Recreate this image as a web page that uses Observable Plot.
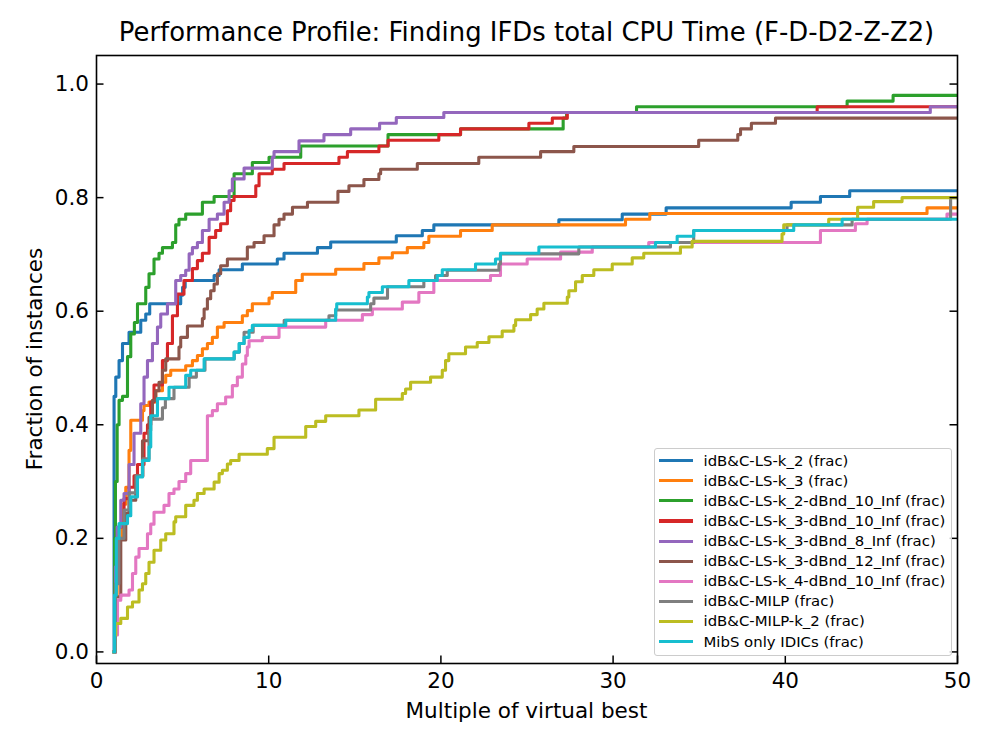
<!DOCTYPE html>
<html><head><meta charset="utf-8">
<script src="https://cdn.jsdelivr.net/npm/d3@7"></script>
<script src="https://cdn.jsdelivr.net/npm/@observablehq/plot@0.6"></script>
<style>
body{margin:0;background:#fff;}
#wrap{position:relative;width:996px;height:747px;font-family:"DejaVu Sans",sans-serif;color:#000;overflow:hidden;}
.lbl{position:absolute;white-space:nowrap;line-height:1;}
#legend{position:absolute;left:654px;top:448px;width:298px;height:208px;box-sizing:border-box;border:1px solid #cccccc;border-radius:3px;background:rgba(255,255,255,0.8);}
.hnd{position:absolute;left:4px;width:33.5px;height:3.1px;}
.txt{position:absolute;left:48.5px;font-size:14.9px;line-height:1;white-space:nowrap;}
</style></head><body><div id="wrap"></div>
<script>
const titleText = "Performance Profile: Finding IFDs total CPU Time (F-D-D2-Z-Z2)";
const xLabel = "Multiple of virtual best";
const yLabel = "Fraction of instances";
const xTicks = [0, 10, 20, 30, 40, 50];
const yTicks = [0, 0.2, 0.4, 0.6, 0.8, 1.0];

const seriesNames = ["idB&C-LS-k_2 (frac)", "idB&C-LS-k_3 (frac)", "idB&C-LS-k_2-dBnd_10_Inf (frac)", "idB&C-LS-k_3-dBnd_10_Inf (frac)", "idB&C-LS-k_3-dBnd_8_Inf (frac)", "idB&C-LS-k_3-dBnd_12_Inf (frac)", "idB&C-LS-k_4-dBnd_10_Inf (frac)", "idB&C-MILP (frac)", "idB&C-MILP-k_2 (frac)", "MibS only IDICs (frac)"];
const seriesColors = ["#1f77b4", "#ff7f0e", "#2ca02c", "#d62728", "#9467bd", "#8c564b", "#e377c2", "#7f7f7f", "#bcbd22", "#17becf"];

const lsK2 = [[1,0],[1.02,0.45],[1.12,0.484],[1.31,0.513],[1.51,0.543],[1.89,0.563],[2.57,0.584],[2.86,0.595],[3.09,0.613],[4.89,0.628],[5.0,0.642],[5.15,0.654],[6.83,0.663],[7.12,0.673],[8.47,0.683],[10.5,0.692],[10.89,0.702],[12.83,0.712],[13.6,0.722],[17.41,0.733],[18.92,0.742],[19.59,0.752],[26.85,0.761],[30.53,0.771],[33.08,0.782],[40.34,0.792],[42.04,0.802],[43.74,0.812],[50,0.812]];
const lsK3 = [[1,0],[1.05,0.1],[1.2,0.2],[1.5,0.26],[1.7,0.29],[1.89,0.355],[1.99,0.408],[2.67,0.425],[2.76,0.434],[3.05,0.44],[3.44,0.46],[3.83,0.475],[4.02,0.487],[4.31,0.496],[5.18,0.504],[5.57,0.513],[5.86,0.522],[6.15,0.534],[6.44,0.543],[6.73,0.554],[7.02,0.572],[7.41,0.58],[8.47,0.592],[8.76,0.601],[9.05,0.613],[10.02,0.623],[10.21,0.633],[11.57,0.654],[11.95,0.665],[13.89,0.674],[15.53,0.684],[16.4,0.694],[17.18,0.703],[18.05,0.712],[19.01,0.721],[19.3,0.732],[21.14,0.742],[22.98,0.752],[30.72,0.762],[32.13,0.772],[48.23,0.782],[50,0.782]];
const lsK2d10 = [[1,0],[1.05,0.2],[1.1,0.3],[1.2,0.4],[1.31,0.443],[1.51,0.45],[1.8,0.52],[1.99,0.56],[2.2,0.58],[2.38,0.613],[2.86,0.642],[3.05,0.666],[3.34,0.692],[3.63,0.702],[3.83,0.712],[4.41,0.721],[4.6,0.752],[4.79,0.762],[5.18,0.771],[6.15,0.792],[6.83,0.802],[7.99,0.842],[9.05,0.862],[10.02,0.871],[11.86,0.891],[16.93,0.911],[21.14,0.921],[27.1,0.94],[27.3,0.95],[31.36,0.96],[43.59,0.97],[46.26,0.98],[50,0.98]];
const lsK3d10 = [[1,0],[1.1,0.15],[1.3,0.22],[1.6,0.27],[1.89,0.29],[2.18,0.31],[2.38,0.33],[2.76,0.385],[2.96,0.40],[3.15,0.44],[3.34,0.47],[3.83,0.513],[4.12,0.543],[4.41,0.592],[4.7,0.63],[5.08,0.654],[5.57,0.675],[5.86,0.689],[6.15,0.702],[6.54,0.73],[6.92,0.742],[7.21,0.754],[7.6,0.777],[7.79,0.795],[7.99,0.802],[9.25,0.821],[9.44,0.842],[10.21,0.85],[10.89,0.86],[14.08,0.871],[14.57,0.881],[16.4,0.891],[16.93,0.901],[19.88,0.911],[21.14,0.921],[25.11,0.931],[26.47,0.94],[27.34,0.95],[41.85,0.96],[50,0.96]];
const lsK3d8 = [[1,0],[1.1,0.15],[1.2,0.22],[1.41,0.267],[1.6,0.279],[1.89,0.33],[2.18,0.385],[2.57,0.437],[2.76,0.484],[2.96,0.513],[3.25,0.543],[3.54,0.572],[3.73,0.595],[4.12,0.613],[4.6,0.654],[4.89,0.663],[5.18,0.672],[5.38,0.701],[5.57,0.712],[5.86,0.721],[6.15,0.742],[6.54,0.762],[7.02,0.771],[7.41,0.792],[7.7,0.812],[7.89,0.833],[8.57,0.852],[10.21,0.871],[10.31,0.881],[11.76,0.90],[13.21,0.911],[14.76,0.921],[16.44,0.931],[17.41,0.941],[20.17,0.95],[48.42,0.96],[50,0.96]];
const lsK3d12 = [[1,0],[1.1,0.097],[1.41,0.197],[1.7,0.244],[1.89,0.267],[2.28,0.31],[2.67,0.372],[3.05,0.413],[3.25,0.443],[3.44,0.46],[3.63,0.475],[3.83,0.496],[4.02,0.516],[4.79,0.537],[4.89,0.554],[5.28,0.574],[6.15,0.587],[6.25,0.604],[6.44,0.622],[6.63,0.636],[6.83,0.648],[7.02,0.666],[7.21,0.68],[7.6,0.692],[8.76,0.713],[9.15,0.721],[9.73,0.733],[10.31,0.752],[10.6,0.762],[10.89,0.771],[11.38,0.783],[12.25,0.792],[14.02,0.811],[14.66,0.821],[15.53,0.832],[16.4,0.842],[16.5,0.85],[18.63,0.86],[22.2,0.871],[25.79,0.881],[27.72,0.89],[34.97,0.901],[37.24,0.911],[37.4,0.921],[38.03,0.931],[39.43,0.94],[50,0.94]];
const lsK4d10 = [[1,0],[1.1,0.03],[1.22,0.091],[1.41,0.10],[1.89,0.109],[2.09,0.138],[2.28,0.167],[2.47,0.182],[2.96,0.208],[3.15,0.225],[3.34,0.246],[3.92,0.258],[4.21,0.279],[4.5,0.287],[4.79,0.30],[5.18,0.314],[5.47,0.337],[6.44,0.416],[6.73,0.425],[7.02,0.437],[7.5,0.449],[7.89,0.469],[8.18,0.484],[8.47,0.507],[8.67,0.522],[8.76,0.537],[8.86,0.548],[9.63,0.554],[10.6,0.572],[13.31,0.584],[15.44,0.594],[16.02,0.604],[17.76,0.616],[18.72,0.633],[19.59,0.654],[22.88,0.663],[23.46,0.683],[25.01,0.692],[26.95,0.704],[28.79,0.713],[32.07,0.721],[42.04,0.742],[44.07,0.754],[44.75,0.762],[49.39,0.771],[50,0.771]];
const milp = [[1,0],[1.1,0.12],[1.3,0.2],[1.6,0.25],[1.9,0.28],[2.3,0.31],[2.7,0.34],[3.05,0.39],[3.15,0.41],[3.83,0.43],[4.0,0.446],[4.5,0.466],[5.38,0.484],[5.8,0.496],[6.3,0.516],[8.0,0.528],[8.3,0.543],[8.57,0.563],[9.1,0.575],[10.9,0.584],[13.5,0.592],[13.89,0.602],[15.92,0.613],[16.11,0.623],[16.9,0.643],[19.01,0.654],[19.69,0.663],[20.37,0.672],[23.37,0.683],[23.46,0.701],[28.01,0.713],[33.33,0.721],[34.68,0.742],[40.1,0.752],[43.88,0.762],[49.6,0.80],[50,0.80]];
const milpK2 = [[1,0],[1.05,0.03],[1.12,0.05],[1.41,0.059],[1.8,0.079],[2.09,0.088],[2.47,0.109],[2.67,0.12],[2.86,0.138],[3.05,0.158],[3.34,0.179],[3.73,0.197],[4.02,0.208],[4.5,0.229],[4.6,0.238],[5.18,0.258],[5.66,0.267],[5.86,0.279],[6.25,0.287],[6.83,0.299],[7.12,0.314],[7.31,0.32],[7.6,0.331],[7.79,0.337],[8.28,0.348],[9.92,0.358],[10.31,0.378],[12.15,0.397],[12.73,0.406],[13.31,0.416],[15.24,0.426],[16.21,0.445],[17.76,0.455],[17.95,0.463],[18.24,0.475],[19.4,0.484],[20.08,0.496],[20.27,0.513],[20.46,0.525],[21.43,0.537],[22.11,0.545],[22.79,0.555],[23.56,0.565],[24.24,0.575],[24.34,0.585],[25.21,0.594],[25.59,0.604],[25.98,0.614],[27.34,0.625],[27.43,0.636],[27.82,0.652],[28.21,0.663],[28.88,0.673],[29.95,0.683],[31.11,0.694],[31.78,0.702],[33.91,0.713],[34.59,0.723],[39.81,0.736],[39.91,0.752],[42.52,0.762],[44.2,0.783],[45.13,0.793],[46.78,0.80],[50,0.80]];
const mibs = [[1,0],[1.05,0.1],[1.15,0.2],[1.31,0.226],[1.8,0.24],[1.99,0.273],[2.38,0.308],[2.67,0.337],[3.05,0.361],[3.15,0.416],[3.54,0.446],[4.21,0.466],[5.18,0.487],[5.47,0.496],[6.25,0.516],[7.99,0.528],[8.28,0.543],[8.57,0.554],[8.86,0.566],[9.05,0.575],[10.99,0.584],[13.89,0.604],[13.95,0.613],[15.73,0.625],[15.82,0.633],[16.6,0.643],[18.14,0.654],[19.79,0.663],[20.08,0.673],[22.01,0.683],[23.17,0.692],[23.46,0.702],[25.69,0.713],[32.46,0.721],[33.72,0.732],[34.68,0.742],[40.49,0.752],[43.3,0.762],[50,0.762]];

const seriesPoints = [lsK2, lsK3, lsK2d10, lsK3d10, lsK3d8, lsK3d12, lsK4d10, milp, milpK2, mibs];

const data = [];
seriesPoints.forEach((pts, i) => pts.forEach(([x, y]) => data.push({series: seriesNames[i], x, y})));

const W = 996, H = 747, mL = 96, mR = 39, mT = 55, mB = 84;
const plotW = W - mL - mR, plotH = H - mT - mB;
const tickLen = 7.5;

const chart = Plot.plot({
  width: W, height: H,
  marginLeft: mL, marginRight: mR, marginTop: mT, marginBottom: mB,
  style: {fontFamily: "DejaVu Sans", fontSize: "21.5px", color: "black", background: "white", overflow: "visible"},
  x: {domain: [0, 50]},
  y: {domain: [-0.0204, 1.0503]},
  color: {domain: seriesNames, range: seriesColors},
  marks: [
    Plot.line(data, {x: "x", y: "y", z: "series", stroke: "series", curve: "step-after", strokeWidth: 3.1, clip: true}),
    Plot.frame({stroke: "black", strokeWidth: 1.6}),
    Plot.tickX(xTicks, {x: d => d, insetTop: plotH - tickLen, stroke: "black", strokeWidth: 1.5}),
    Plot.tickY(yTicks, {y: d => d, insetRight: plotW - tickLen, stroke: "black", strokeWidth: 1.5}),
    Plot.tickY(yTicks, {y: d => d, insetLeft: plotW - tickLen, stroke: "black", strokeWidth: 1.5}),
    Plot.axisX({ticks: xTicks, tickSize: 0, tickPadding: 9, label: null, fontSize: 21.5, tickFormat: d => String(d)}),
    Plot.axisY({ticks: yTicks, tickSize: 0, tickPadding: 7.5, label: null, fontSize: 21.5, tickFormat: d => d.toFixed(1)})
  ]
});

const wrap = document.getElementById("wrap");
chart.style.position = "absolute";
chart.style.left = "0px";
chart.style.top = "0px";
wrap.appendChild(chart);

function addLabel(text, css) {
  const d = document.createElement("div");
  d.className = "lbl";
  d.textContent = text;
  Object.assign(d.style, css);
  wrap.appendChild(d);
  return d;
}
const axCenterX = mL + plotW / 2;
addLabel(titleText, {fontSize: "25.9px", top: (42 - 0.846 * 25.9) + "px", left: axCenterX + "px", transform: "translateX(-50%)"});
addLabel(xLabel, {fontSize: "21.5px", top: (718 - 0.846 * 21.5) + "px", left: axCenterX + "px", transform: "translateX(-50%)"});
addLabel(yLabel, {fontSize: "21.5px", left: "0px", top: "0px", width: plotH + "px", textAlign: "center", transformOrigin: "0 0", transform: `translate(${42 - 0.846 * 21.5}px, ${mT + plotH}px) rotate(-90deg)`});

const legend = document.createElement("div");
legend.id = "legend";
wrap.appendChild(legend);
seriesNames.forEach((name, i) => {
  const center = 12.7 + i * 20.1;
  const h = document.createElement("div");
  h.className = "hnd";
  h.style.top = (center - 1.55 - 1) + "px";
  h.style.background = seriesColors[i];
  legend.appendChild(h);
  const t = document.createElement("div");
  t.className = "txt";
  t.style.top = (center - 7.1 - 1) + "px";
  t.textContent = name;
  legend.appendChild(t);
});
</script></body></html>
